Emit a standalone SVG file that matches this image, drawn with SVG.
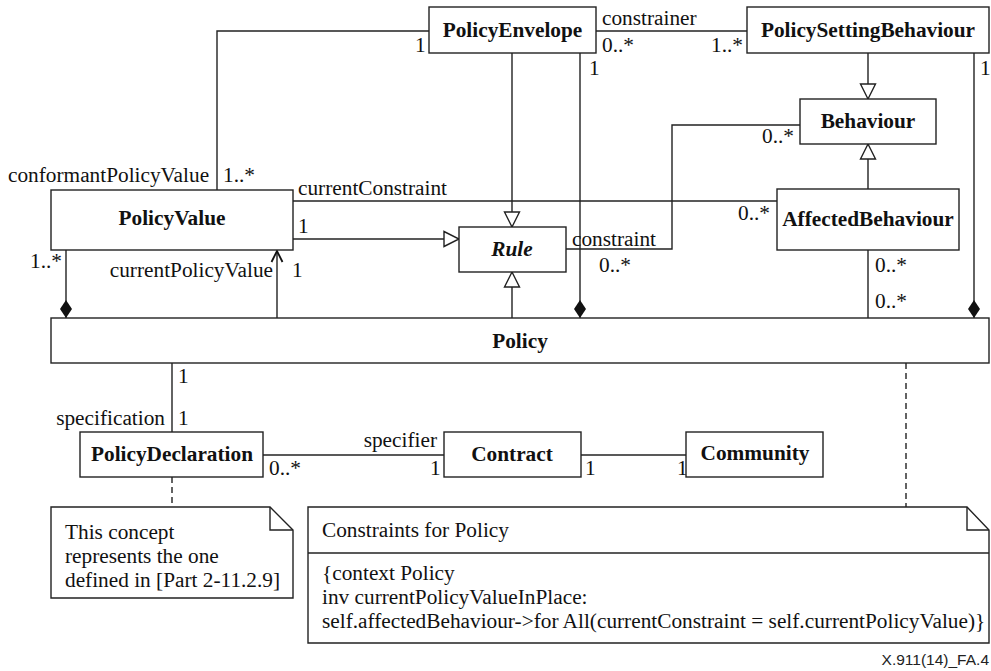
<svg xmlns="http://www.w3.org/2000/svg" width="991" height="671" viewBox="0 0 991 671">
<style>
.n{fill:#fff;stroke:#222;stroke-width:1.4}
.c{fill:none;stroke:#222;stroke-width:1.4}
.d{fill:none;stroke:#222;stroke-width:1.4;stroke-dasharray:6 4}
.b{font-family:"Liberation Serif",serif;font-weight:bold;font-size:21.3px;fill:#111;text-anchor:middle}
.t{font-family:"Liberation Serif",serif;font-size:21.3px;fill:#111}
.e{text-anchor:end}
</style>
<defs>
<marker id="tri" markerUnits="userSpaceOnUse" markerWidth="17" markerHeight="17" refX="15" refY="7.5" orient="auto" overflow="visible">
<path d="M0,0 L15,7.5 L0,15 Z" fill="#fff" stroke="#222" stroke-width="1.4"/>
</marker>
<marker id="dia" markerUnits="userSpaceOnUse" markerWidth="20" markerHeight="14" refX="18" refY="6" orient="auto" overflow="visible">
<path d="M0,6 L9,0 L18,6 L9,12 Z" fill="#111"/>
</marker>
<marker id="open" markerUnits="userSpaceOnUse" markerWidth="12" markerHeight="12" refX="11" refY="5.5" orient="auto" overflow="visible">
<path d="M0,0 L11,5.5 L0,11" fill="none" stroke="#111" stroke-width="1.8"/>
</marker>
</defs>

<g id="connectors">
<polyline class="c" points="429,31 217,31 217,190"/>
<line class="c" x1="596" y1="31" x2="747" y2="31"/>
<line class="c" x1="868" y1="53" x2="868" y2="99" marker-end="url(#tri)"/>
<line class="c" x1="868" y1="189" x2="868" y2="144" marker-end="url(#tri)"/>
<polyline class="c" points="800,125 672,125 672,249 566,249"/>
<line class="c" x1="512" y1="53" x2="512" y2="227" marker-end="url(#tri)"/>
<line class="c" x1="580" y1="53" x2="580" y2="318" marker-end="url(#dia)"/>
<line class="c" x1="974" y1="53" x2="974" y2="318" marker-end="url(#dia)"/>
<line class="c" x1="293" y1="201" x2="777" y2="201"/>
<line class="c" x1="293" y1="239" x2="459" y2="239" marker-end="url(#tri)"/>
<line class="c" x1="512" y1="318" x2="512" y2="272" marker-end="url(#tri)"/>
<line class="c" x1="66" y1="250" x2="66" y2="318" marker-end="url(#dia)"/>
<line class="c" x1="277" y1="318" x2="277" y2="251" marker-end="url(#open)"/>
<line class="c" x1="868" y1="250" x2="868" y2="318"/>
<line class="c" x1="172" y1="363" x2="172" y2="432"/>
<line class="c" x1="263" y1="455" x2="444" y2="455"/>
<line class="c" x1="581" y1="455" x2="686" y2="455"/>
<line class="d" x1="172" y1="477" x2="172" y2="507"/>
<line class="d" x1="906" y1="363" x2="906" y2="507"/>
</g>

<g id="labels">
<text class="t" x="415" y="52">1</text>
<text class="t" x="8" y="182">conformantPolicyValue</text>
<text class="t" x="223" y="182">1..*</text>
<text class="t" x="298" y="195">currentConstraint</text>
<text class="t" x="602" y="25">constrainer</text>
<text class="t" x="602" y="52">0..*</text>
<text class="t" x="711" y="52">1..*</text>
<text class="t" x="589" y="75">1</text>
<text class="t" x="980" y="75">1</text>
<text class="t" x="762" y="143">0..*</text>
<text class="t" x="738" y="220">0..*</text>
<text class="t" x="572" y="246">constraint</text>
<text class="t" x="599" y="272">0..*</text>
<text class="t" x="298" y="233">1</text>
<text class="t" x="30" y="268">1..*</text>
<text class="t e" x="273" y="277">currentPolicyValue</text>
<text class="t" x="292" y="277">1</text>
<text class="t" x="875" y="272">0..*</text>
<text class="t" x="875" y="308">0..*</text>
<text class="t" x="178" y="383">1</text>
<text class="t e" x="165" y="425">specification</text>
<text class="t" x="178" y="425">1</text>
<text class="t e" x="437" y="447">specifier</text>
<text class="t" x="269" y="475">0..*</text>
<text class="t" x="430" y="475">1</text>
<text class="t" x="585" y="475">1</text>
<text class="t" x="677" y="475">1</text>
</g>

<g id="PolicyEnvelope"><rect class="n" x="429" y="7" width="167" height="46"/><text class="b" x="512.5" y="37">PolicyEnvelope</text></g>
<g id="PolicySettingBehaviour"><rect class="n" x="747" y="7" width="242" height="46"/><text class="b" x="868" y="37">PolicySettingBehaviour</text></g>
<g id="Behaviour"><rect class="n" x="800" y="99" width="136" height="45"/><text class="b" x="868" y="128">Behaviour</text></g>
<g id="AffectedBehaviour"><rect class="n" x="777" y="189" width="182" height="61"/><text class="b" x="868" y="226">AffectedBehaviour</text></g>
<g id="PolicyValue"><rect class="n" x="51" y="190" width="242" height="60"/><text class="b" x="172" y="225">PolicyValue</text></g>
<g id="Rule"><rect class="n" x="459" y="227" width="107" height="45"/><text class="b" x="512" y="256" font-style="italic">Rule</text></g>
<g id="Policy"><rect class="n" x="51" y="318" width="938" height="45"/><text class="b" x="520" y="348">Policy</text></g>
<g id="PolicyDeclaration"><rect class="n" x="80" y="432" width="183" height="45"/><text class="b" x="172" y="461">PolicyDeclaration</text></g>
<g id="Contract"><rect class="n" x="444" y="432" width="137" height="45"/><text class="b" x="512" y="461">Contract</text></g>
<g id="Community"><rect class="n" x="686" y="432" width="137" height="45"/><text class="b" x="755" y="460">Community</text></g>

<g id="Note1">
<path class="n" d="M51,507 H270 L293,530 V598 H51 Z"/>
<path class="c" d="M270,507 V530 H293"/>
<text class="t" x="65" y="539">This concept</text>
<text class="t" x="65" y="563">represents the one</text>
<text class="t" x="65" y="587">defined in [Part 2-11.2.9]</text>
</g>
<g id="Note2">
<path class="n" d="M308,507 H967 L989,530 V643 H308 Z"/>
<path class="c" d="M967,507 V530 H989"/>
<line class="c" x1="308" y1="553" x2="989" y2="553"/>
<text class="t" x="322" y="537">Constraints for Policy</text>
<text class="t" x="322" y="580">{context Policy</text>
<text class="t" x="322" y="604">inv currentPolicyValueInPlace:</text>
<text class="t" x="322" y="628">self.affectedBehaviour-&gt;for All(currentConstraint = self.currentPolicyValue)}</text>
</g>
<text x="989" y="665" font-family="'Liberation Sans',Arial,sans-serif" font-size="15.5" fill="#222" text-anchor="end">X.911(14)_FA.4</text>
</svg>
